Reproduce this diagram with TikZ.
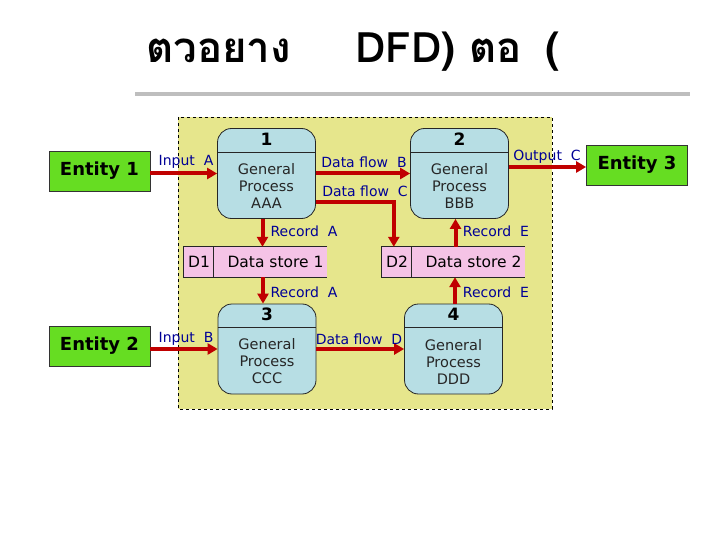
\documentclass[tikz,border=0pt]{standalone}
\usepackage{fontspec}
\setmainfont{DejaVu Sans}
\newfontfamily\thaifont[Script=Thai]{Loma}
\usetikzlibrary{arrows.meta}
\definecolor{arrred}{RGB}{192,0,0}
\definecolor{lblblue}{RGB}{0,0,150}
\definecolor{boxyellow}{RGB}{230,230,140}
\definecolor{procblue}{RGB}{183,222,228}
\definecolor{entgreen}{RGB}{102,221,34}
\definecolor{storepink}{RGB}{245,195,230}
\definecolor{rulegray}{RGB}{190,190,190}
\begin{document}
\begin{tikzpicture}[x=1pt,y=-1pt,
 entity/.style={draw=black!80, line width=0.8pt, fill=entgreen, minimum width=101pt, minimum height=40pt, inner sep=0pt, font=\bfseries\fontsize{18}{20}\selectfont},
 proc/.style={draw=black!85, line width=0.8pt, fill=procblue, rounded corners=14pt, minimum width=98pt, minimum height=90pt, inner sep=0pt},
 ptext/.style={font=\fontsize{14.5}{17}\selectfont, align=center, text=black!85, inner sep=0pt},
 pnum/.style={font=\bfseries\fontsize{17}{17}\selectfont, inner sep=0pt},
 store/.style={fill=storepink, minimum width=143pt, minimum height=30pt, inner sep=0pt},
 stext/.style={font=\fontsize{15.5}{16}\selectfont, inner sep=0pt},
 lbl/.style={text=lblblue, font=\fontsize{14}{14}\selectfont, inner sep=0pt},
 flow/.style={draw=arrred, line width=4pt, -{Triangle[length=10pt,width=11pt]}},
 ttl/.style={font=\thaifont\bfseries\fontsize{42}{42}\selectfont, anchor=base west, inner sep=0pt},
 edge1/.style={line width=0.8pt, draw=black!85}
]
\useasboundingbox (0,0) rectangle (720,540);
\fill[white] (0,0) rectangle (720,540);
% title
\node[ttl] (t1) at (146,63) {ตวอยาง};
\node[ttl] (t2) at (355,63) {DFD) ตอ};
\node[ttl] (t3) at (545,63) {(};
\draw[rulegray, line width=4pt] (135,94) -- (690,94);
% system boundary
\draw[dashed, fill=boxyellow, line width=0.8pt] (178,117) rectangle (552,409);
% entities
\node[entity] (e1) at (99.5,171) {Entity 1};
\node[entity] (e2) at (99.5,346) {Entity 2};
\node[entity] (e3) at (637,165) {Entity 3};
% processes
\node[proc] (p1) at (266.5,173.5) {};
\node[proc] (p2) at (459.5,173.5) {};
\node[proc] (p3) at (267,349) {};
\node[proc] (p4) at (453.5,349) {};
\foreach \p in {p1,p2,p3,p4}
  \draw[edge1] ([yshift=-24pt]\p.north west) -- ([yshift=-24pt]\p.north east);
\node[pnum] (p1n) at ([yshift=-11pt]p1.north) {1};
\node[pnum] (p2n) at ([yshift=-11pt]p2.north) {2};
\node[pnum] (p3n) at ([yshift=-11pt]p3.north) {3};
\node[pnum] (p4n) at ([yshift=-11pt]p4.north) {4};
\node[ptext] (p1t) at ([yshift=-12.5pt]p1.center) {General\\Process\\AAA};
\node[ptext] (p2t) at ([yshift=-12.5pt]p2.center) {General\\Process\\BBB};
\node[ptext] (p3t) at ([yshift=-12.5pt]p3.center) {General\\Process\\CCC};
\node[ptext] (p4t) at ([yshift=-12.5pt]p4.center) {General\\Process\\DDD};
% data stores
\node[store] (d1) at (255.5,262) {};
\node[store] (d2) at (453.5,262) {};
\foreach \d in {d1,d2}{
  \draw[edge1] (\d.north east) -- (\d.north west) -- (\d.south west) -- (\d.south east);
  \draw[edge1] ([xshift=30pt]\d.north west) -- ([xshift=30pt]\d.south west);
}
\node[stext] (d1i) at (199,262) {D1};
\node[stext] (d1t) at (275.5,262) {Data store 1};
\node[stext] (d2i) at (397,262) {D2};
\node[stext] (d2t) at (473.5,262) {Data store 2};
% flows
\draw[flow] (p1.west -| e1.east) -- (p1.west);
\draw[flow] (p1.east) -- (p2.west);
\draw[flow] ([yshift=-28.5pt]p1.east) -| ([xshift=12pt]d2.north west);
\draw[flow] ([xshift=-4pt]p1.south) -- ([xshift=-4pt]p1.south |- d1.north);
\draw[flow] ([xshift=-4pt]p3.north |- d1.south) -- ([xshift=-4pt]p3.north);
\draw[flow] ([xshift=-4pt]p2.south |- d2.north) -- ([xshift=-4pt]p2.south);
\draw[flow] ([xshift=1.5pt]p4.north) -- ([xshift=1.5pt]p4.north |- d2.south);
\draw[flow] ([yshift=6.5pt]p2.east) -- ([yshift=6.5pt]p2.east -| e3.west);
\draw[flow] (p3.west -| e2.east) -- (p3.west);
\draw[flow] (p3.east) -- (p4.west);
% labels
\node[lbl] (lIA) at (186,162) {Input\ \ A};
\node[lbl] (lDB) at (364,162) {Data flow\ \ B};
\node[lbl] (lDC) at (365,191) {Data flow\ \ C};
\node[lbl] (lRA1) at (304,231) {Record\ \ A};
\node[lbl] (lRE1) at (496,231) {Record\ \ E};
\node[lbl] (lRA2) at (304,292) {Record\ \ A};
\node[lbl] (lRE2) at (496,292) {Record\ \ E};
\node[lbl] (lOC) at (547,157) {Output\ \ C};
\node[lbl] (lIB) at (186,339) {Input\ \ B};
\node[lbl] (lDD) at (359,339) {Data flow\ \ D};
\end{tikzpicture}
\end{document}
